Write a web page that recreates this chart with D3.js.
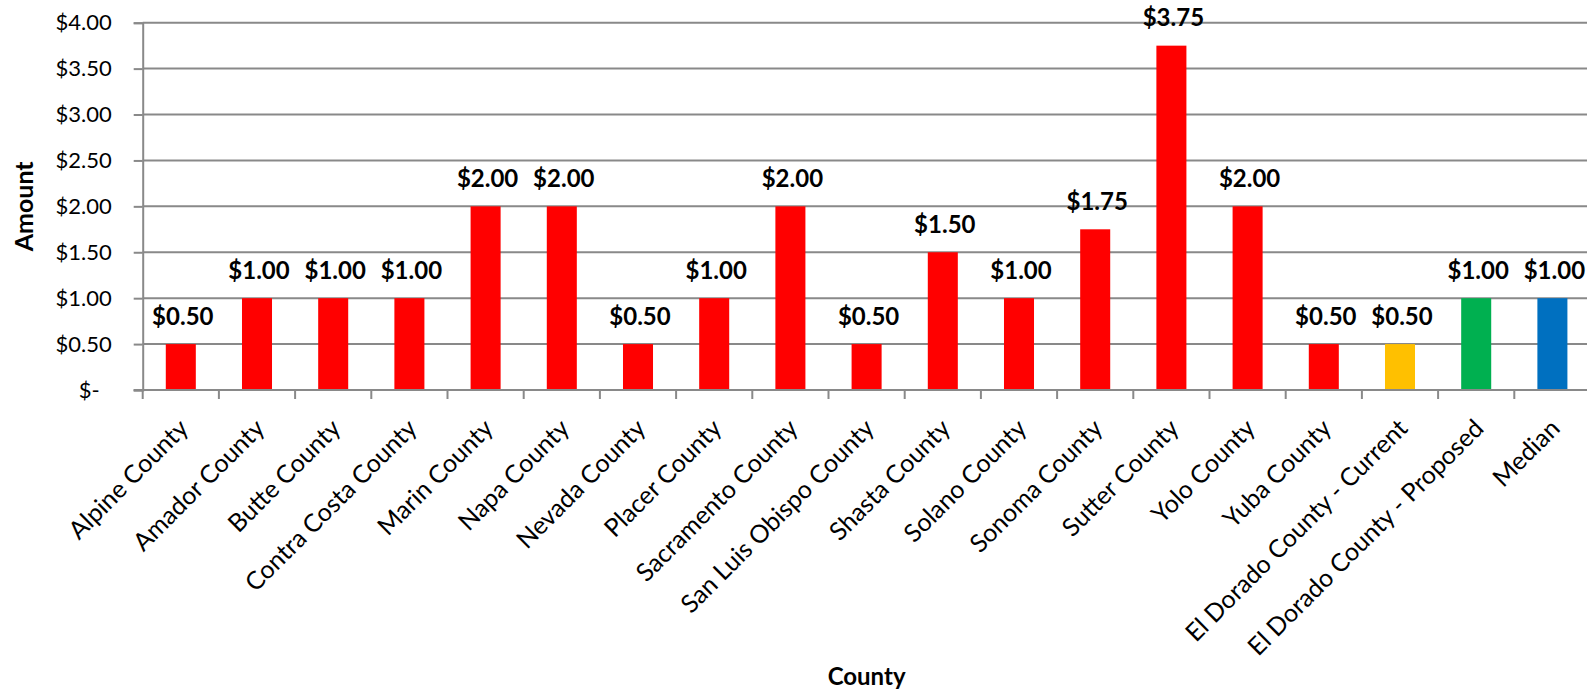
<!DOCTYPE html>
<html>
<head>
<meta charset="utf-8">
<script src="https://cdn.jsdelivr.net/npm/d3@7"></script>
<style>
  html, body { margin: 0; padding: 0; background: #fff; }
  svg { display: block; }
  text { font-family: Lato, "Open Sans", sans-serif; fill: #000; }
</style>
</head>
<body>
<svg id="chart" width="1587" height="692"></svg>
<script>
const categories = [
  "Alpine County", "Amador County", "Butte County", "Contra Costa County",
  "Marin County", "Napa County", "Nevada County", "Placer County",
  "Sacramento County", "San Luis Obispo County", "Shasta County", "Solano County",
  "Sonoma County", "Sutter County", "Yolo County", "Yuba County",
  "El Dorado County - Current", "El Dorado County - Proposed", "Median"
];
const values = [0.5, 1, 1, 1, 2, 2, 0.5, 1, 2, 0.5, 1.5, 1, 1.75, 3.75, 2, 0.5, 0.5, 1, 1];
const barColors = ["#FF0000","#FF0000","#FF0000","#FF0000","#FF0000","#FF0000","#FF0000","#FF0000",
  "#FF0000","#FF0000","#FF0000","#FF0000","#FF0000","#FF0000","#FF0000","#FF0000",
  "#FFC000","#00B050","#0070C0"];
const yTicks = [0, 0.5, 1, 1.5, 2, 2.5, 3, 3.5, 4];
const yTickLabels = ["$-", "$0.50", "$1.00", "$1.50", "$2.00", "$2.50", "$3.00", "$3.50", "$4.00"];
const xTitle = "County";
const yTitle = "Amount";

const svg = d3.select("#chart");
const mLeft = 142.7, mRight = 1590.5, mTop = 22.7, mBottom = 390;
const gridColor = "#898989";

const x = d3.scaleBand().domain(categories).range([mLeft, mRight]).padding(0);
const y = d3.scaleLinear().domain([0, 4]).range([mBottom, mTop]);
const barW = x.bandwidth() * 0.394;
const fmt = v => "$" + d3.format(".2f")(v);

// gridlines
svg.append("g").selectAll("line").data(yTicks.filter(t => t > 0)).join("line")
  .attr("x1", mLeft).attr("x2", mRight)
  .attr("y1", d => y(d)).attr("y2", d => y(d))
  .attr("stroke", gridColor).attr("stroke-width", 2);

// y axis
const yAxis = svg.append("g").attr("transform", `translate(${mLeft},0)`)
  .call(d3.axisLeft(y).tickValues(yTicks).tickSize(9).tickPadding(22)
    .tickFormat((d, i) => yTickLabels[i]));
yAxis.select(".domain").attr("stroke", gridColor).attr("stroke-width", 2);
yAxis.selectAll(".tick line").attr("stroke", gridColor).attr("stroke-width", 2);
yAxis.selectAll(".tick text").attr("font-size", 22).style("font-family", "Lato, 'Open Sans', sans-serif")
  .attr("fill", "#000")
  .attr("dx", d => d === 0 ? -12 : 0);

// bars
svg.append("g").selectAll("rect").data(values).join("rect")
  .attr("x", (d, i) => x(categories[i]) + (x.bandwidth() - barW) / 2)
  .attr("y", d => y(d))
  .attr("width", barW)
  .attr("height", d => y(0) - y(d))
  .attr("fill", (d, i) => barColors[i]);

// x axis
svg.append("line").attr("x1", mLeft - 9).attr("x2", mRight).attr("y1", mBottom).attr("y2", mBottom)
  .attr("stroke", gridColor).attr("stroke-width", 2);
svg.append("g").selectAll("line").data(categories).join("line")
  .attr("x1", d => x(d)).attr("x2", d => x(d))
  .attr("y1", mBottom).attr("y2", mBottom + 9)
  .attr("stroke", gridColor).attr("stroke-width", 2);

// category labels
svg.append("g").selectAll("text").data(categories).join("text")
  .attr("transform", d => `translate(${x(d) + x.bandwidth() / 2 + 9},${mBottom + 40}) rotate(-45)`)
  .attr("text-anchor", "end")
  .attr("font-size", 25)
  .text(d => d);

// value labels
svg.append("g").selectAll("text").data(values).join("text")
  .attr("x", (d, i) => x(categories[i]) + x.bandwidth() / 2 + 2)
  .attr("y", d => y(d) - 19.5)
  .attr("text-anchor", "middle")
  .attr("font-size", 24)
  .attr("font-weight", "bold")
  .text(d => fmt(d));

// axis titles
svg.append("text")
  .attr("x", (mLeft + mRight) / 2).attr("y", 685)
  .attr("text-anchor", "middle").attr("font-size", 24).attr("font-weight", "bold")
  .text(xTitle);
svg.append("text")
  .attr("transform", `translate(33,${(mTop + mBottom) / 2}) rotate(-90)`)
  .attr("text-anchor", "middle").attr("font-size", 25).attr("font-weight", "bold")
  .text(yTitle);
</script>
</body>
</html>
